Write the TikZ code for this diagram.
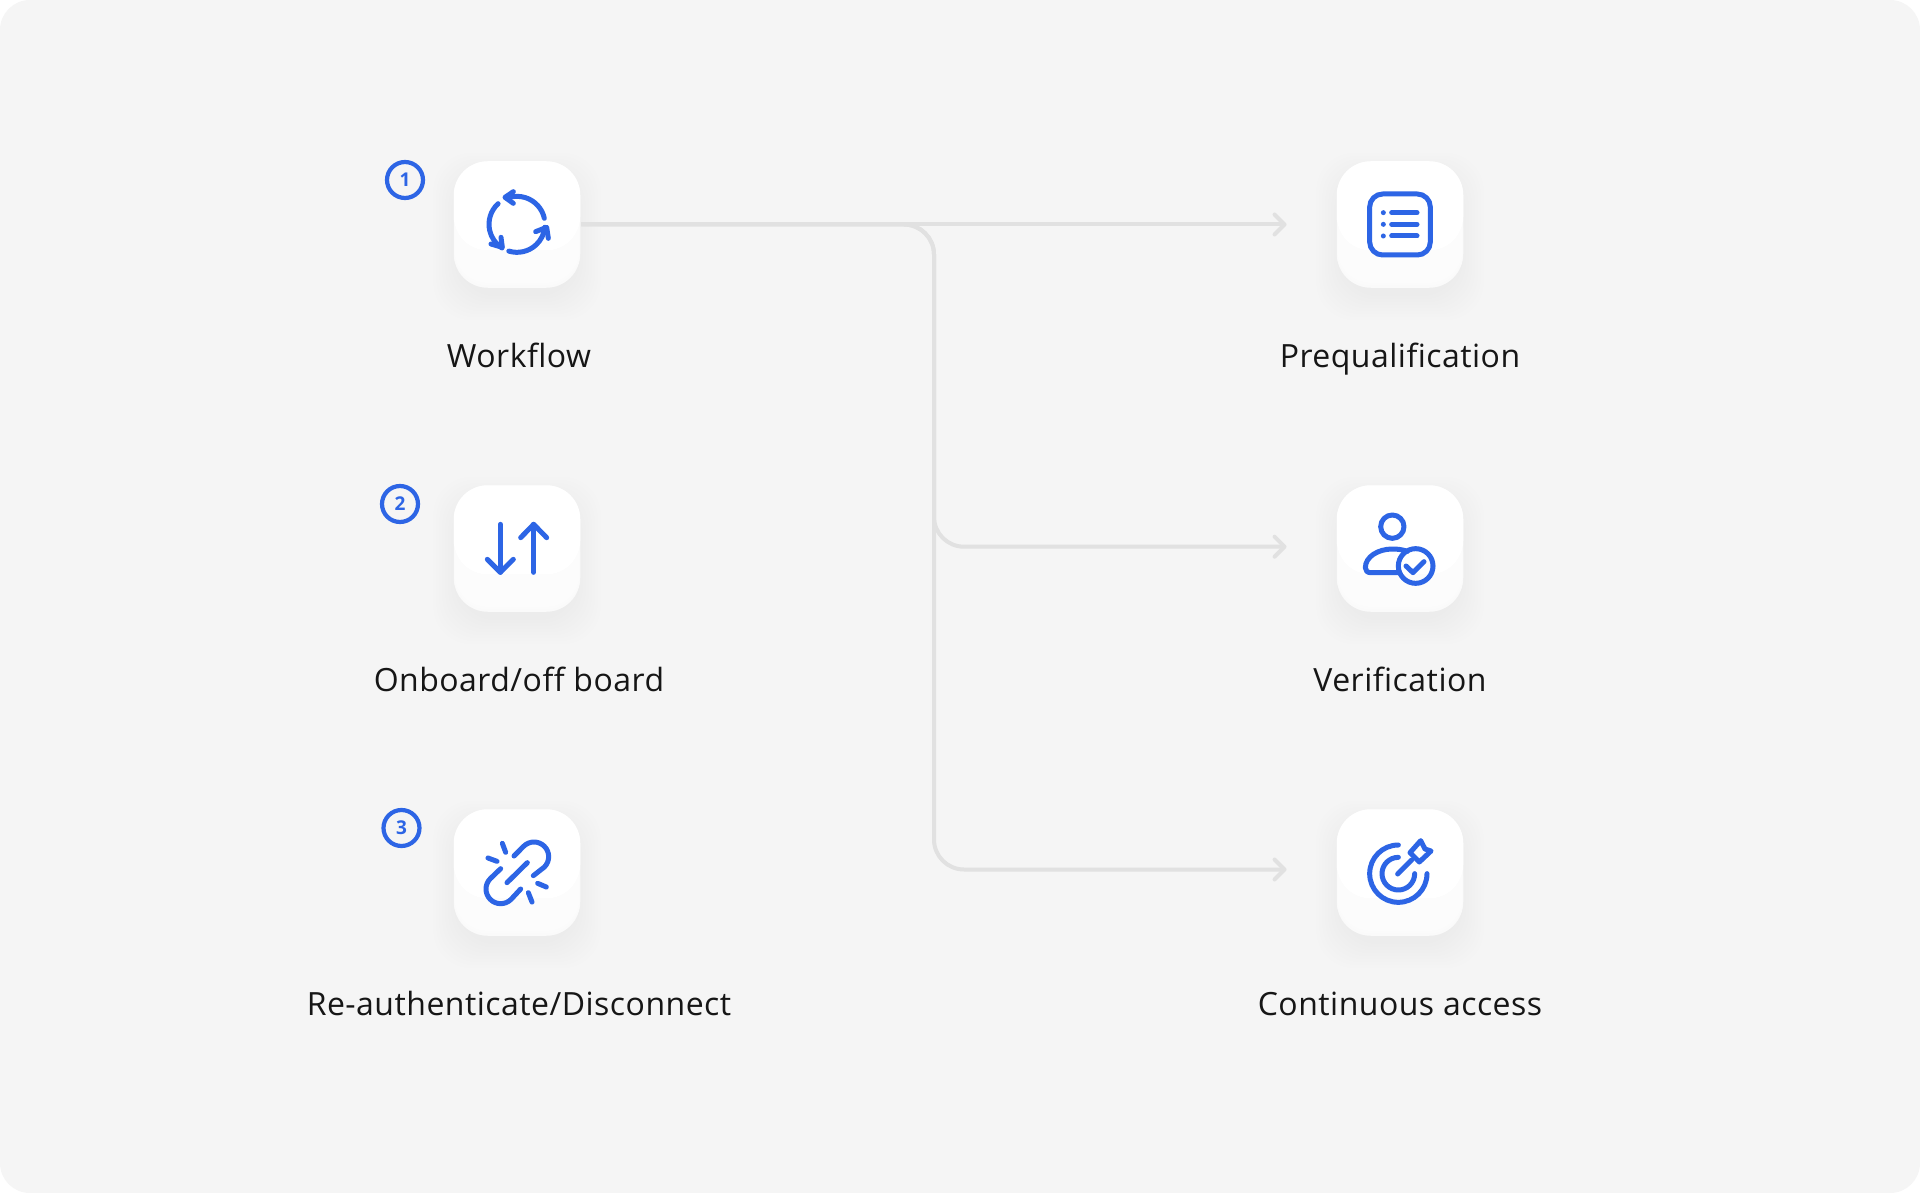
\documentclass[tikz,border=0pt]{standalone}
\usepackage{fontspec}
\setmainfont[Ligatures=NoCommon,LetterSpace=1.5]{Open Sans}
\definecolor{pagebg}{HTML}{F5F5F5}
\definecolor{iconblue}{HTML}{2D65E5}
\definecolor{wire}{HTML}{E1E1E1}
\definecolor{labelink}{HTML}{161616}
\usetikzlibrary{arrows.meta}
\tikzset{
  iconbox/.style={rectangle,rounded corners=34pt,minimum size=126.5pt,inner sep=0pt,fill=pagebg!75!white},
  wirelink/.style={draw=wire,line width=4pt,rounded corners=30pt},
  wirearrow/.style={wirelink,-{Straight Barb[length=10pt,width=20pt,line width=4pt,round]},shorten >=50pt},
  stageLabel/.style={anchor=base,font=\fontsize{32}{38}\selectfont,text=labelink,inner sep=0pt},
  badgeRing/.style={circle,draw=iconblue,line width=4.2pt,minimum size=36pt,inner sep=0pt,text=iconblue,font=\fontsize{19}{19}\selectfont\bfseries},
  glyph/.style={draw=iconblue,line width=5pt,line cap=round,line join=round},
}
\newcommand{\softshadow}[2]{%
  \foreach \e in {20,17,...,-4}{%
    \fill[black,opacity=.0028,rounded corners=38pt]
      (#1-63.75-\e,#2-63.75-\e+12) rectangle (#1+63.75+\e,#2+63.75+\e+12);
  }%
}
\newcommand{\softface}[2]{%
  \fill[white,rounded corners=34pt] (#1-63.25,#2-63.25) rectangle (#1+63.25,#2+26);
  \foreach \e in {0,1,...,13}{%
    \fill[white,opacity=.3,rounded corners=34pt]
      (#1-63.25+.3*\e,#2-30) rectangle (#1+63.25-.3*\e,#2+63.25-2.4*\e);
  }%
}
\begin{document}
\begin{tikzpicture}[x=1pt,y=-1pt]
\useasboundingbox (0,0) rectangle (1920,1193);
\fill[white] (0,0) rectangle (1920,1193);
\fill[pagebg,rounded corners=30pt] (0,0) rectangle (1920,1193);

% shadows
\softshadow{517}{224.5}
\softshadow{517}{548.5}
\softshadow{517}{872.5}
\softshadow{1400}{224.5}
\softshadow{1400}{548.5}
\softshadow{1400}{872.5}

% boxes
\node[iconbox] (wf) at (517,224.5) {};
\node[iconbox] (ob) at (517,548.5) {};
\node[iconbox] (ra) at (517,872.5) {};
\node[iconbox] (pq) at (1400,224.5) {};
\node[iconbox] (vf) at (1400,548.5) {};
\node[iconbox] (ca) at (1400,872.5) {};
\softface{517}{224.5}
\softface{517}{548.5}
\softface{517}{872.5}
\softface{1400}{224.5}
\softface{1400}{548.5}
\softface{1400}{872.5}

% connectors
\coordinate (bend) at (934,224.5);
\coordinate (vfin) at ([yshift=1.8pt]vf.west);
\coordinate (cain) at ([yshift=3pt]ca.west);
\draw[wirearrow,shorten <=1pt] (wf.east) -- (pq.west);
\draw[wirearrow,shorten <=1pt] (wf.east) -- (bend) -- (bend |- vfin) -- (vfin);
\draw[wirearrow,shorten <=1pt] (wf.east) -- (bend) -- (bend |- cain) -- (cain);

% badges
\node[badgeRing] (b1) at (405,180) {1};
\node[badgeRing] (b2) at (400,504) {2};
\node[badgeRing] (b3) at (401.5,828) {3};

% labels
\node[stageLabel] (l1) at (519,367) {Workflow};
\node[stageLabel] (l2) at (519,691) {Onboard/off board};
\node[stageLabel] (l3) at (519,1015) {Re-authenticate/Disconnect};
\node[stageLabel] (l4) at (1400,367) {Prequalification};
\node[stageLabel] (l5) at (1400,691) {Verification};
\node[stageLabel] (l6) at (1400,1015) {Continuous access};

% icon 1: cycle
\begin{scope}[shift={(370,140)},x=.33333pt,y=-.33333pt]
\draw[glyph] (441,253) ++(-12.5:84) arc[start angle=-12.5,end angle=-105,radius=84];
\draw[glyph] (441,253) ++(-132.5:84) arc[start angle=-132.5,end angle=-237.5,radius=84];
\draw[glyph] (441,253) ++(107:84) arc[start angle=107,end angle=6,radius=84];
\draw[glyph] (430,155) -- (405,172) -- (430,190);
\draw[glyph] (363,312) -- (397,322) -- (393,292);
\draw[glyph] (497,275) -- (530,262) -- (535,295);
\end{scope}

% icon 2: up/down arrows
\begin{scope}[shift={(370,465)},x=.33333pt,y=-.33333pt]
\draw[glyph] (391,178) -- (391,322);
\draw[glyph] (352,283) -- (391,322) -- (430,283);
\draw[glyph] (491,322) -- (491,178);
\draw[glyph] (452,218) -- (491,178) -- (530,218);
\end{scope}

% icon 3: broken link
\begin{scope}[shift={(370,790)},x=.33333pt,y=-.33333pt]
\draw[glyph] (411,278) -- (472,218);
\draw[glyph] (432,198) -- (460.9,168.9) arc[start angle=-135,end angle=45,radius=44] -- (490,257);
\draw[glyph] (392,236) -- (360.9,265.9) arc[start angle=-135,end angle=-315,radius=44] -- (452,297);
\draw[glyph] (397,160) -- (407,187);
\draw[glyph] (354,204) -- (381,214);
\draw[glyph] (475,308) -- (486,336);
\draw[glyph] (503,280) -- (529,291);
\end{scope}

% icon 4: list
\begin{scope}[shift={(1320,150)},x=.33333pt,y=-.33333pt]
\draw[glyph,rounded corners=13pt] (149,132) rectangle (331,315);
\foreach \yy in {188,223,258}{
  \fill[iconblue] (190,\yy) circle[radius=7.5];
  \draw[glyph] (215,\yy) -- (291,\yy);
}
\end{scope}

% icon 5: person check
\begin{scope}[shift={(1320,475)},x=.33333pt,y=-.33333pt]
\draw[glyph] (217,155) circle[radius=35];
\draw[glyph] (237,293) -- (152,293) .. controls (142,293) and (136,287) .. (136,278) .. controls (136,245) and (175,222) .. (217,222) .. controls (233,222) and (248,224) .. (262,229);
\draw[glyph] (287,273) circle[radius=52];
\draw[glyph] (258,273) -- (279,293) -- (312,260);
\end{scope}

% icon 6: target
\begin{scope}[shift={(1320,800)},x=.33333pt,y=-.33333pt]
\draw[glyph] (235,221) ++(-90:86) arc[start angle=-90,end angle=-360,radius=86];
\draw[glyph] (235,221) ++(-90:49) arc[start angle=-90,end angle=-360,radius=49];
\draw[glyph] (233,222) -- (275,180);
\draw[glyph] (270,158) -- (302,122) -- (315,147) -- (333,153) -- (298,186) -- cycle;
\end{scope}
\end{tikzpicture}
\end{document}
